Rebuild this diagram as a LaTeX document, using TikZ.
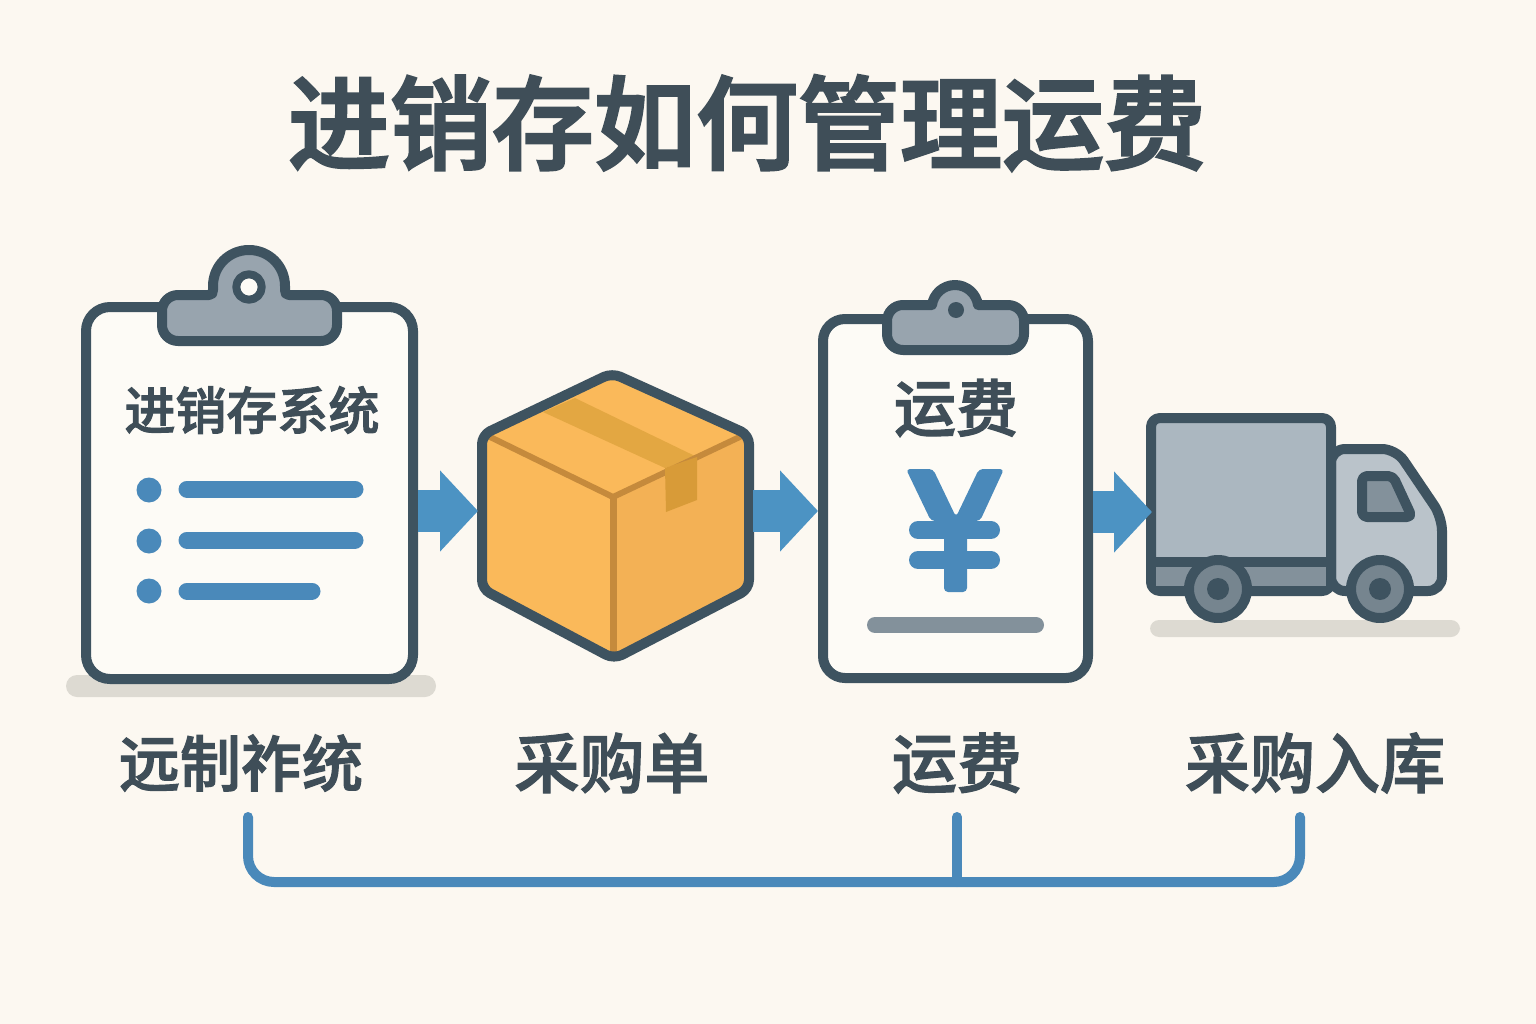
\documentclass[tikz,border=0pt]{standalone}
\usepackage{fontspec}
\usepackage{xcolor}
\usetikzlibrary{arrows.meta}
\newfontfamily\cjk[FakeBold=2.6]{Noto Sans CJK SC Medium}
\newfontfamily\cjkmed[FakeBold=1.9]{Noto Sans CJK SC Medium}
\definecolor{paper}{HTML}{FCF8F1}
\definecolor{sheet}{HTML}{FDFBF6}
\definecolor{ink}{HTML}{3E5360}
\definecolor{textink}{HTML}{3F4E58}
\definecolor{flowblue}{HTML}{4C93C3}
\definecolor{itemblue}{HTML}{4A89BA}
\definecolor{clipgray}{HTML}{98A4AE}
\definecolor{ground}{HTML}{DDDAD2}
\definecolor{boxtop}{HTML}{FAB95A}
\definecolor{boxright}{HTML}{F3B155}
\definecolor{boxedge}{HTML}{C58A3C}
\definecolor{tapetop}{HTML}{E3A742}
\definecolor{tapeflap}{HTML}{D89B38}
\definecolor{cargo}{HTML}{ABB7C0}
\definecolor{cab}{HTML}{BAC3CA}
\definecolor{sill}{HTML}{83919B}
\definecolor{hub}{HTML}{76858F}
\tikzset{
  board/.style={draw=ink,fill=sheet,line width=10pt,rounded corners=24pt,inner sep=0pt},
  outline/.style={draw=ink,line width=10pt,line join=round},
  flow/.style={draw=flowblue,line width=42pt,-{Triangle[length=38pt,width=79pt]}},
  label/.style={font=\cjkmed\fontsize{65}{70}\selectfont,text=textink,inner sep=0pt},
  listbar/.style={draw=itemblue,line width=17pt,line cap=round},
  brace/.style={draw=itemblue,line width=10pt,line cap=round,rounded corners=26pt}
}
\begin{document}
\begin{tikzpicture}[x=1pt,y=-1pt]
        \useasboundingbox (0,0) rectangle (1536,1024);
        \fill[paper] (0,0) rectangle (1536,1024);
        \node[font=\cjk\fontsize{102}{110}\selectfont,text=textink,inner sep=0pt] (title) at (747,123) {进销存如何管理运费};

        % first clipboard
        \fill[ground,rounded corners=11pt] (66,675) rectangle (436,697);
        \node[board,minimum width=327pt,minimum height=372pt] (sysboard) at (249.5,493) {};
        \filldraw[outline,fill=clipgray] (289,295) [rounded corners=16pt] -- (337,295) -- (337,341) -- (162,341) -- (162,295) [sharp corners] -- (209,295) .. controls (212,295) and (213,293) .. (213,290) -- (213,286) .. controls (213,266) and (229,250) .. (249,250) .. controls (269,250) and (285,266) .. (285,286) -- (285,290) .. controls (285,293) and (286,295) .. (289,295) -- cycle;
        \filldraw[outline,line width=8pt,fill=sheet] (249,287) circle (12.7);
        \node[font=\cjkmed\fontsize{51}{56}\selectfont,text=textink,inner sep=0pt] (systext) at (252,410) {进销存系统};
        \fill[itemblue] (149,490) circle (12.5);
        \fill[itemblue] (149,541) circle (12.5);
        \fill[itemblue] (149,591) circle (12.5);
        \draw[listbar] (187,489) -- (355,489);
        \draw[listbar] (187,540) -- (355,540);
        \draw[listbar] (187,591) -- (312,591);

        % carton
        \fill[boxtop,rounded corners=9pt] (612,373) -- (749,435) -- (749,589) -- (614,659) -- (482,589) -- (482,435) -- cycle;
        \fill[boxright] (613,497) -- (746,435) -- (746,587) -- (613,654) -- cycle;
        \fill[tapetop] (543,412) -- (575,398) -- (697,457) -- (665,468) -- cycle;
        \draw[boxedge,line width=6pt,line join=round] (484,434) -- (613,497) -- (746,434);
        \draw[boxedge,line width=7pt] (613,497) -- (613,652);
        \fill[tapeflap] (665,468) -- (697,457) -- (697,500) -- (666,512) -- cycle;
        \draw[outline,rounded corners=9pt] (612,373) -- (749,435) -- (749,589) -- (614,659) -- (482,589) -- (482,435) -- cycle;

        % second clipboard
        \node[board,minimum width=265pt,minimum height=359pt,rounded corners=22pt] (feeboard) at (955.5,498.5) {};
        \filldraw[outline,fill=clipgray] (978,305) [rounded corners=16pt] -- (1024,305) -- (1024,350) -- (887,350) -- (887,305) [sharp corners] -- (932,305) .. controls (933.5,294) and (943,285) .. (955,285) .. controls (967,285) and (976.5,294) .. (978,305) -- cycle;
        \fill[ink] (956,310) circle (8);
        \node[font=\cjkmed\fontsize{62}{68}\selectfont,text=textink,inner sep=0pt] (feetext) at (956,408) {运费};
        \fill[itemblue,rounded corners=4pt] (906,469) -- (933,469) -- (956,517) -- (979,469) -- (1004,469) -- (980,521) -- (967,521) -- (967,592) -- (944,592) -- (944,521) -- (931,521) -- cycle;
        \draw[itemblue,line width=18pt,line cap=round] (918,530) -- (991,530);
        \draw[itemblue,line width=18pt,line cap=round] (918,560) -- (991,560);
        \draw[sill,line width=16pt,line cap=round] (875,625) -- (1036,625);

        % truck
        \fill[ground,rounded corners=9pt] (1150,620) rectangle (1460,637);
        \filldraw[outline,fill=cab,rounded corners=14pt] (1331,449) -- (1396,449) -- (1442,517) -- (1442,591) -- (1331,591) -- cycle;
        \filldraw[outline,fill=cargo,rounded corners=9pt] (1151,418) -- (1331,418) -- (1331,591) -- (1151,591) -- cycle;
        \fill[sill] (1156,567) rectangle (1326,586);
        \draw[outline] (1151,562) -- (1331,562);
        \filldraw[outline,fill=sill,rounded corners=5pt] (1362,476) -- (1393,476) -- (1412,517) -- (1362,517) -- cycle;
        \filldraw[outline,fill=hub] (1218,589) circle (29);
        \fill[ink] (1218,589) circle (11);
        \filldraw[outline,fill=hub] (1380,589) circle (29);
        \fill[ink] (1380,589) circle (11);

        % arrows
        \coordinate (boxwest) at (478,511);
        \coordinate (boxeast) at (753,511);
        \coordinate (truckwest) at (1152,512);
        \draw[flow] (sysboard.east |- boxwest) -- (boxwest);
        \draw[flow] (boxeast) -- (feeboard.west |- boxeast);
        \draw[flow] (feeboard.east |- truckwest) -- (truckwest);

        % labels and bracket
        \node[label,font=\cjkmed\fontsize{61}{66}\selectfont] (syslabel) at (241,763) {远制祚统};
        \node[label] (orderlabel) at (612,763) {采购单};
        \node[label] (feelabel) at (957,763) {运费};
        \node[label] (stocklabel) at (1315,763) {采购入库};
        \coordinate (braceleft) at (248,817);
        \coordinate (braceright) at (1300,817);
        \coordinate (bracemid) at (957,817);
        \draw[brace] (braceleft) -- (248,882) -- (1300,882) -- (braceright);
        \draw[brace,rounded corners=0pt] (bracemid) -- (957,882);
      \end{tikzpicture}
\end{document}
